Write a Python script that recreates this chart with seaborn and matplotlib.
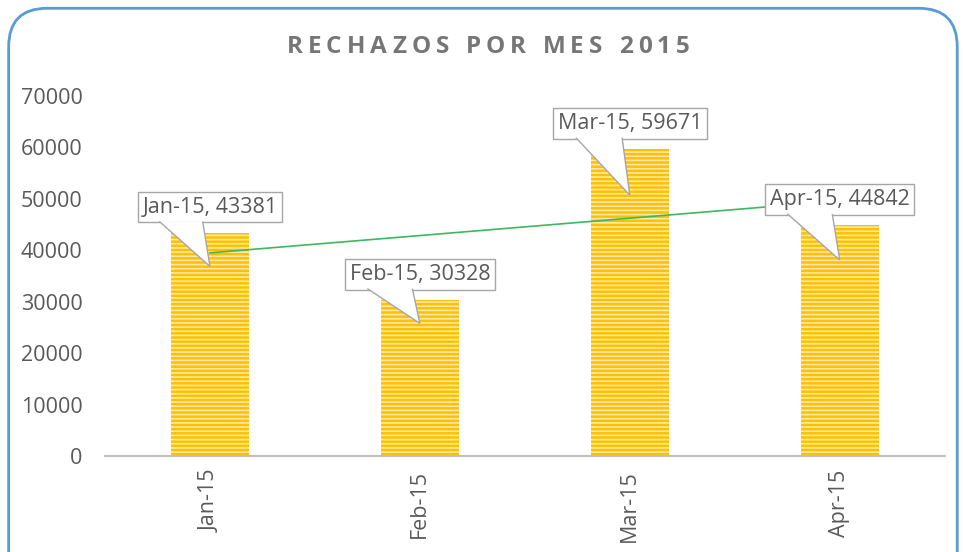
"""Bar chart of monthly rejections with callout labels and a linear trend line"""

import numpy as np
import pandas as pd
import matplotlib
matplotlib.use("Agg")
import matplotlib.pyplot as plt
from matplotlib.patches import FancyBboxPatch, Polygon
import seaborn as sns

# Data
months = ["Jan-15", "Feb-15", "Mar-15", "Apr-15"]
rechazos = [43381, 30328, 59671, 44842]
y_ticks = [0, 10000, 20000, 30000, 40000, 50000, 60000, 70000]
title = "RECHAZOS POR MES 2015"

df = pd.DataFrame({"mes": months, "rechazos": rechazos})

sns.set_style("white")
plt.rcParams["font.family"] = ["Open Sans", "DejaVu Sans"]
plt.rcParams["hatch.linewidth"] = 1.2

gray = "#595959"
box_ec = "#A6A6A6"

fig = plt.figure(figsize=(9.63, 5.52), dpi=100)
ax = fig.add_axes([0.109, 0.174, 0.872, 0.652])

sns.barplot(data=df, x="mes", y="rechazos", color="#FFC000", width=0.37,
            saturation=1, ax=ax)

# Striped fill like the Excel texture
for bar in ax.patches:
    bar.set_hatch("----")
    bar.set_edgecolor("#FFE9A6")
    bar.set_linewidth(0)

# Linear trend line across the categories
x = np.arange(len(months))
slope, intercept = np.polyfit(x, rechazos, 1)
ax.plot(x, slope * x + intercept, color="#3DB85C", linewidth=1.2, zorder=3)

# Callout labels (box first, pointer added after layout is known)
labels = []
for i, (m, v) in enumerate(zip(months, rechazos)):
    t = ax.text(i, v + 5000, f"{m}, {v}", ha="center", va="center",
                fontsize=15.5, color=gray, zorder=5,
                bbox=dict(boxstyle="square,pad=0.22", fc="white", ec=box_ec, lw=1))
    labels.append(t)

ax.set_ylim(0, 70000)
ax.set_xlim(-0.5, 3.5)
ax.set_yticks(y_ticks)
ax.set_yticklabels([str(t) for t in y_ticks], fontsize=15.5, color=gray)
ax.set_xticks(x)
ax.set_xticklabels(months, rotation=90, fontsize=15.5, color=gray)
ax.tick_params(axis="y", length=0, pad=16)
ax.tick_params(axis="x", length=0, pad=10)
ax.set_xlabel("")
ax.set_ylabel("")
for side in ["top", "right", "left"]:
    ax.spines[side].set_visible(False)
ax.spines["bottom"].set_color("#BFBFBF")
ax.spines["bottom"].set_linewidth(1.5)

fig.canvas.draw()
renderer = fig.canvas.get_renderer()

# Callout pointers: open triangle from the box bottom edge to a spot in the bar
for i, (t, v) in enumerate(zip(labels, rechazos)):
    bb = t.get_bbox_patch().get_window_extent(renderer)
    tip = ax.transData.transform((i, v * 0.85))
    x0 = bb.x0 + 0.15 * bb.width
    x1 = bb.x0 + 0.45 * bb.width
    y0 = bb.y0 + 1
    ptr = Polygon([(x0, y0), tip, (x1, y0)], closed=False, transform=None,
                  fc="white", ec=box_ec, lw=1, zorder=6)
    fig.patches.append(ptr)

# Title with wide letter spacing (Excel style), one glyph at a time
chars = [fig.text(0, 0.915, c, ha="left", va="center", fontsize=17.5,
                  fontweight="bold", color="#767676") for c in title]
widths = [c.get_window_extent(renderer).width for c in chars]
total_px = 403.0
track = (total_px - sum(widths)) / (len(chars) - 1)
cur = 488.0 - total_px / 2
for c, w in zip(chars, widths):
    c.set_x(cur / fig.bbox.width)
    cur += w + track

# Rounded chart border (bottom runs off the image)
border = FancyBboxPatch((0.009, -0.1), 0.985, 1.085,
                        boxstyle="round,pad=0,rounding_size=0.04",
                        transform=fig.transFigure, fc="none", ec="#5B9BD5",
                        lw=2, mutation_aspect=963 / 552)
fig.patches.append(border)

fig.savefig("out.png", dpi=100)
